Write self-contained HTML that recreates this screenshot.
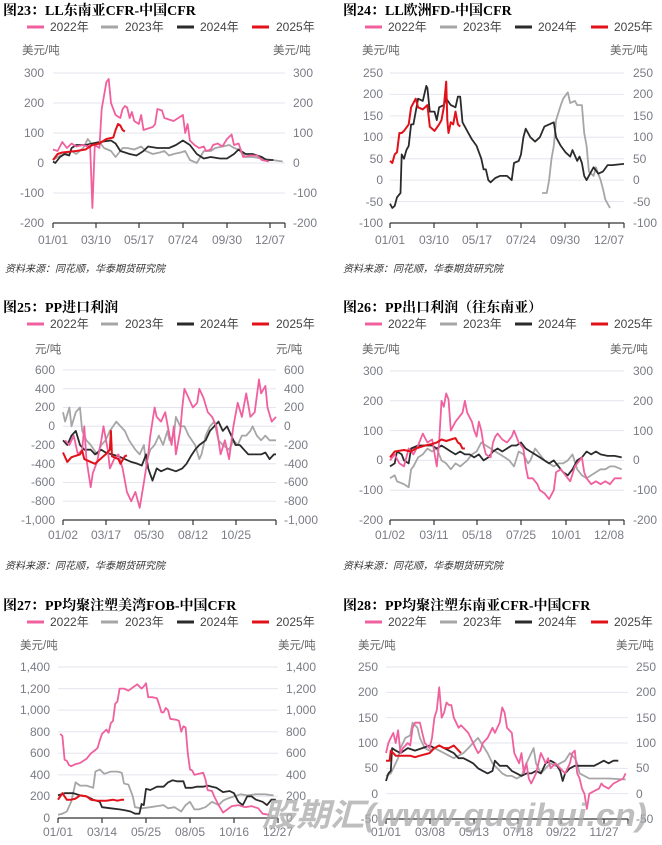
<!DOCTYPE html>
<html><head><meta charset="utf-8"><style>
html,body{margin:0;padding:0;background:#fff;}
svg{display:block;}
.t{font-family:"Liberation Serif","Noto Serif CJK SC","Noto Sans CJK SC",serif;font-weight:bold;font-size:14px;fill:#000;}
.lg{font-family:"Liberation Sans","Noto Sans CJK SC",sans-serif;font-size:12px;fill:#444;}
.u{font-family:"Liberation Sans","Noto Sans CJK SC",sans-serif;font-size:11.5px;fill:#666;}
.k{font-family:"Liberation Sans","Noto Sans CJK SC",sans-serif;font-size:12px;fill:#7a7c85;}
.s{font-family:"Liberation Sans","Noto Sans CJK SC",sans-serif;font-size:10px;fill:#333;font-style:italic;}
.g{stroke:#e3e6ee;stroke-width:1;}
.ax{stroke:#333;stroke-width:1.2;fill:none;}
</style></head><body>
<svg id="s" width="662" height="845" xmlns="http://www.w3.org/2000/svg">
<g id="grids"></g>
<g id="lines"></g>

<!-- Chart 23 -->
<text class="t" x="3" y="15">图23：LL东南亚CFR-中国CFR</text>
<g class="lg"><text x="50" y="31">2022年</text><text x="125" y="31">2023年</text><text x="200" y="31">2024年</text><text x="276" y="31">2025年</text></g>
<text class="u" x="22" y="54">美元/吨</text><text class="u" x="273" y="54">美元/吨</text>
<g class="k" text-anchor="end"><text x="44" y="77">300</text><text x="44" y="107">200</text><text x="44" y="137">100</text><text x="44" y="167">0</text><text x="44" y="197">-100</text><text x="44" y="227">-200</text></g>
<g class="k"><text x="293" y="77">300</text><text x="293" y="107">200</text><text x="293" y="137">100</text><text x="293" y="167">0</text><text x="293" y="197">-100</text><text x="293" y="227">-200</text></g>
<g class="k" text-anchor="middle"><text x="53" y="244">01/01</text><text x="96" y="244">03/10</text><text x="139" y="244">05/17</text><text x="183" y="244">07/24</text><text x="227" y="244">09/30</text><text x="270" y="244">12/07</text></g>
<text class="s" x="5" y="272">资料来源：同花顺，华泰期货研究院</text>

<!-- Chart 24 -->
<text class="t" x="343" y="15">图24：LL欧洲FD-中国CFR</text>
<g class="lg"><text x="388" y="31">2022年</text><text x="463" y="31">2023年</text><text x="538" y="31">2024年</text><text x="614" y="31">2025年</text></g>
<text class="u" x="362" y="54">美元/吨</text><text class="u" x="610" y="54">美元/吨</text>
<g class="k" text-anchor="end"><text x="383" y="77">250</text><text x="383" y="98">200</text><text x="383" y="120">150</text><text x="383" y="141">100</text><text x="383" y="163">50</text><text x="383" y="184">0</text><text x="383" y="206">-50</text><text x="383" y="227">-100</text></g>
<g class="k"><text x="633" y="77">250</text><text x="633" y="98">200</text><text x="633" y="120">150</text><text x="633" y="141">100</text><text x="633" y="163">50</text><text x="633" y="184">0</text><text x="633" y="206">-50</text><text x="633" y="227">-100</text></g>
<g class="k" text-anchor="middle"><text x="390" y="244">01/01</text><text x="434" y="244">03/10</text><text x="477" y="244">05/17</text><text x="521" y="244">07/24</text><text x="565" y="244">09/30</text><text x="609" y="244">12/07</text></g>
<text class="s" x="343" y="272">资料来源：同花顺，华泰期货研究院</text>

<!-- Chart 25 -->
<text class="t" x="3" y="312">图25：PP进口利润</text>
<g class="lg"><text x="50" y="328">2022年</text><text x="125" y="328">2023年</text><text x="200" y="328">2024年</text><text x="276" y="328">2025年</text></g>
<text class="u" x="35" y="353">元/吨</text><text class="u" x="276" y="353">元/吨</text>
<g class="k" text-anchor="end"><text x="55" y="374">600</text><text x="55" y="393">400</text><text x="55" y="411">200</text><text x="55" y="430">0</text><text x="55" y="449">-200</text><text x="55" y="468">-400</text><text x="55" y="486">-600</text><text x="55" y="505">-800</text><text x="55" y="524">-1,000</text></g>
<g class="k"><text x="284" y="374">600</text><text x="284" y="393">400</text><text x="284" y="411">200</text><text x="284" y="430">0</text><text x="284" y="449">-200</text><text x="284" y="468">-400</text><text x="284" y="486">-600</text><text x="284" y="505">-800</text><text x="284" y="524">-1,000</text></g>
<g class="k" text-anchor="middle"><text x="63" y="539">01/02</text><text x="106" y="539">03/17</text><text x="149" y="539">05/30</text><text x="193" y="539">08/12</text><text x="236" y="539">10/25</text></g>
<text class="s" x="5" y="569">资料来源：同花顺，华泰期货研究院</text>

<!-- Chart 26 -->
<text class="t" x="343" y="312">图26：PP出口利润（往东南亚）</text>
<g class="lg"><text x="388" y="328">2022年</text><text x="463" y="328">2023年</text><text x="538" y="328">2024年</text><text x="614" y="328">2025年</text></g>
<text class="u" x="362" y="353">美元/吨</text><text class="u" x="610" y="353">美元/吨</text>
<g class="k" text-anchor="end"><text x="383" y="375">300</text><text x="383" y="405">200</text><text x="383" y="435">100</text><text x="383" y="464">0</text><text x="383" y="494">-100</text><text x="383" y="524">-200</text></g>
<g class="k"><text x="633" y="375">300</text><text x="633" y="405">200</text><text x="633" y="435">100</text><text x="633" y="464">0</text><text x="633" y="494">-100</text><text x="633" y="524">-200</text></g>
<g class="k" text-anchor="middle"><text x="390" y="539">01/02</text><text x="434" y="539">03/11</text><text x="477" y="539">05/18</text><text x="521" y="539">07/25</text><text x="566" y="539">10/01</text><text x="609" y="539">12/08</text></g>
<text class="s" x="343" y="569">资料来源：同花顺，华泰期货研究院</text>

<!-- Chart 27 -->
<text class="t" x="3" y="610">图27：PP均聚注塑美湾FOB-中国CFR</text>
<g class="lg"><text x="50" y="626">2022年</text><text x="125" y="626">2023年</text><text x="200" y="626">2024年</text><text x="276" y="626">2025年</text></g>
<text class="u" x="20" y="649">美元/吨</text><text class="u" x="278" y="649">美元/吨</text>
<g class="k" text-anchor="end"><text x="50" y="671">1,400</text><text x="50" y="693">1,200</text><text x="50" y="714">1,000</text><text x="50" y="736">800</text><text x="50" y="757">600</text><text x="50" y="779">400</text><text x="50" y="800">200</text><text x="50" y="822">0</text></g>
<g class="k"><text x="286" y="671">1,400</text><text x="286" y="693">1,200</text><text x="286" y="714">1,000</text><text x="286" y="736">800</text><text x="286" y="757">600</text><text x="286" y="779">400</text><text x="286" y="800">200</text><text x="286" y="822">0</text></g>
<g class="k" text-anchor="middle"><text x="58" y="836">01/01</text><text x="102" y="836">03/14</text><text x="146" y="836">05/25</text><text x="190" y="836">08/05</text><text x="234" y="836">10/16</text><text x="278" y="836">12/27</text></g>

<!-- Chart 28 -->
<text class="t" x="343" y="610">图28：PP均聚注塑东南亚CFR-中国CFR</text>
<g class="lg"><text x="388" y="626">2022年</text><text x="463" y="626">2023年</text><text x="538" y="626">2024年</text><text x="614" y="626">2025年</text></g>
<text class="u" x="358" y="649">美元/吨</text><text class="u" x="616" y="649">美元/吨</text>
<g class="k" text-anchor="end"><text x="378" y="671">250</text><text x="378" y="696">200</text><text x="378" y="722">150</text><text x="378" y="747">100</text><text x="378" y="772">50</text><text x="378" y="798">0</text><text x="378" y="823">-50</text></g>
<g class="k"><text x="636" y="671">250</text><text x="636" y="696">200</text><text x="636" y="722">150</text><text x="636" y="747">100</text><text x="636" y="772">50</text><text x="636" y="798">0</text><text x="636" y="823">-50</text></g>
<g class="k" text-anchor="middle"><text x="386" y="836">01/01</text><text x="430" y="836">03/08</text><text x="474" y="836">05/13</text><text x="518" y="836">07/18</text><text x="561" y="836">09/22</text><text x="604" y="836">11/27</text></g>

<text x="262" y="826" font-family="Liberation Sans,Noto Sans CJK SC,sans-serif" font-size="32" font-weight="bold" font-style="italic" fill="#a8a8a8" fill-opacity="0.75" textLength="385" lengthAdjust="spacingAndGlyphs">股期汇(www.guqihui.cn)</text>
</svg>
<script>
var C={p:"#f0609e",g:"#a6a6a6",b:"#2b2b2b",r:"#e3111a"};
var NS="http://www.w3.org/2000/svg";
function el(par,n,a){var e=document.createElementNS(NS,n);for(var k in a)e.setAttribute(k,a[k]);document.getElementById(par).appendChild(e);return e;}
function chart(o){
 var yv=function(v){return o.y0+(o.vmax-v)*(o.y1-o.y0)/(o.vmax-o.vmin);};
 for(var v=o.vmax;v>o.vmin;v-=o.step){el("grids","line",{x1:o.x0,x2:o.x1,y1:yv(v),y2:yv(v),class:"g"});}
 el("grids","line",{x1:o.x0,x2:o.x1,y1:o.y1,y2:o.y1,class:"ax"});
 o.ticks.forEach(function(t){el("grids","line",{x1:t,x2:t,y1:o.y1,y2:o.y1+5,class:"ax"});});
 el("grids","line",{x1:o.x1,x2:o.x1,y1:o.y1,y2:o.y1+5,class:"ax"});
 // legend
 var lx=o.lx, ly=o.ly, cols=[C.p,C.g,C.b,C.r];
 for(var i=0;i<4;i++)el("grids","line",{x1:lx[i],x2:lx[i]+17,y1:ly,y2:ly,stroke:cols[i],"stroke-width":3});
 ["g","b","p","r"].forEach(function(k){var d=o.d[k];if(!d)return;
  var pts=d.map(function(p){return (o.x0+p[0]*(o.x1-o.x0)).toFixed(1)+","+yv(p[1]).toFixed(1);}).join(" ");
  el("lines","polyline",{points:pts,fill:"none",stroke:C[k],"stroke-width":k=="r"?2:1.8,"stroke-linejoin":"round"});});
}
var L1=[27,101,177,252],L2=[365,440,515,591];
chart({x0:53,x1:285,y0:73,y1:223,vmax:300,vmin:-200,step:100,ticks:[53,96,139,183,227,270],lx:L1,ly:27,d:{
p:[[0,45],[.02,40],[.04,70],[.06,50],[.08,65],[.1,55],[.13,60],[.15,55],[.16,60],[.17,-150],[.18,60],[.2,50],[.21,180],[.23,270],[.24,280],[.25,200],[.27,160],[.29,150],[.3,180],[.31,190],[.32,185],[.33,150],[.34,170],[.35,140],[.37,130],[.38,160],[.39,110],[.41,115],[.43,120],[.44,130],[.45,180],[.47,175],[.48,150],[.5,145],[.52,140],[.54,150],[.56,160],[.57,100],[.58,130],[.59,75],[.61,60],[.63,50],[.65,55],[.66,40],[.68,45],[.69,60],[.71,65],[.73,55],[.75,80],[.77,95],[.78,60],[.8,65],[.82,20],[.85,25],[.88,25],[.9,10],[.93,5]],
g:[[0,10],[.02,20],[.05,30],[.08,40],[.1,30],[.13,50],[.15,80],[.17,60],[.2,70],[.22,50],[.25,40],[.27,20],[.3,50],[.32,50],[.35,45],[.38,55],[.4,40],[.43,30],[.46,35],[.48,40],[.5,25],[.52,30],[.55,35],[.57,40],[.59,10],[.62,0],[.65,40],[.68,40],[.7,50],[.73,55],[.76,60],[.78,50],[.8,45],[.83,20],[.86,20],[.9,15],[.99,5]],
b:[[0,5],[.01,0],[.03,20],[.05,30],[.07,25],[.08,50],[.1,60],[.14,60],[.17,65],[.2,70],[.25,75],[.27,65],[.29,40],[.33,30],[.36,25],[.39,40],[.41,55],[.45,50],[.5,50],[.53,60],[.56,75],[.59,60],[.62,30],[.65,15],[.68,20],[.72,15],[.75,15],[.78,30],[.8,45],[.83,30],[.86,30],[.9,20],[.92,10],[.95,10]],
r:[[0,10],[.02,30],[.04,35],[.1,40],[.14,45],[.17,60],[.2,65],[.23,80],[.26,85],[.27,110],[.28,130],[.29,125],[.3,110],[.31,105]]}});
chart({x0:390,x1:624,y0:73,y1:223,vmax:250,vmin:-100,step:50,ticks:[390,434,477,521,565,609],lx:L2,ly:27,d:{
b:[[0,-55],[.01,-65],[.02,-60],[.03,-40],[.045,-30],[.05,60],[.06,50],[.07,70],[.08,80],[.09,130],[.1,130],[.12,190],[.14,185],[.155,220],[.16,215],[.17,160],[.19,160],[.2,140],[.21,170],[.23,175],[.24,190],[.26,175],[.28,170],[.29,195],[.3,195],[.31,135],[.33,115],[.35,95],[.37,80],[.39,50],[.4,25],[.41,25],[.42,0],[.43,-5],[.45,5],[.47,10],[.5,10],[.52,0],[.53,40],[.55,45],[.56,60],[.57,100],[.58,120],[.6,100],[.62,90],[.64,100],[.66,125],[.68,130],[.7,135],[.71,100],[.73,80],[.75,65],[.77,55],[.78,70],[.8,45],[.81,55],[.82,40],[.83,10],[.84,0],[.86,20],[.87,30],[.89,15],[.91,20],[.93,35],[.95,35],[1,38]],
r:[[0,45],[.01,40],[.02,60],[.03,65],[.04,110],[.05,110],[.06,115],[.08,130],[.09,170],[.1,180],[.11,190],[.12,170],[.14,165],[.16,175],[.17,125],[.19,115],[.21,130],[.22,140],[.23,170],[.24,230],[.245,140],[.25,110],[.26,135],[.27,130],[.28,160],[.29,130],[.3,125]],
g:[[.65,-30],[.67,-30],[.68,0],[.69,50],[.7,80],[.71,140],[.73,175],[.74,190],[.76,205],[.77,180],[.79,185],[.8,175],[.82,175],[.83,110],[.84,80],[.85,20],[.87,10],[.88,30],[.9,0],[.91,-20],[.92,-45],[.94,-65]]}});
chart({x0:63,x1:276,y0:370,y1:520,vmax:600,vmin:-1000,step:200,ticks:[63,106,149,193,236],lx:L1,ly:324,d:{
p:[[.01,-150],[.03,-200],[.05,-100],[.07,-300],[.09,-250],[.1,0],[.11,-350],[.13,-650],[.14,-500],[.16,-380],[.18,-150],[.19,0],[.21,-250],[.22,-450],[.24,-350],[.26,-300],[.28,-450],[.3,-700],[.32,-800],[.34,-700],[.36,-870],[.38,-600],[.4,-300],[.41,-100],[.43,200],[.44,100],[.46,50],[.48,150],[.5,-100],[.51,-200],[.52,0],[.53,-300],[.55,-50],[.56,200],[.57,400],[.59,300],[.61,200],[.63,250],[.64,400],[.66,300],[.68,150],[.7,100],[.72,0],[.74,-300],[.76,-150],[.78,-350],[.8,0],[.82,250],[.84,100],[.86,350],[.88,100],[.9,150],[.92,500],[.93,350],[.95,430],[.96,200],[.98,50],[1,100]],
g:[[0,150],[.01,50],[.03,200],[.04,0],[.06,150],[.08,200],[.09,-50],[.11,-150],[.13,-200],[.16,-300],[.18,-200],[.2,-150],[.22,-50],[.25,50],[.27,0],[.29,-50],[.31,-150],[.34,-250],[.36,-300],[.38,-200],[.39,-400],[.41,-250],[.43,-200],[.45,-100],[.47,-200],[.49,-50],[.5,-150],[.52,-100],[.53,100],[.55,0],[.57,0],[.59,-100],[.62,-200],[.64,-350],[.65,-300],[.67,-100],[.69,0],[.71,50],[.73,-150],[.75,-200],[.78,-250],[.8,-150],[.82,-200],[.84,-100],[.86,-100],[.88,-50],[.89,0],[.91,-100],[.93,-150],[.95,-100],[.97,-150],[1,-150]],
b:[[0,-150],[.02,-200],[.04,-100],[.06,-50],[.08,-200],[.1,-250],[.13,-250],[.15,-300],[.18,-250],[.2,-280],[.23,-300],[.26,-320],[.29,-350],[.32,-380],[.35,-400],[.37,-420],[.39,-300],[.4,-450],[.42,-580],[.44,-450],[.46,-480],[.49,-450],[.53,-480],[.56,-450],[.58,-400],[.6,-320],[.62,-250],[.64,-200],[.67,-150],[.69,-50],[.71,0],[.73,50],[.75,-50],[.77,0],[.79,-100],[.81,-200],[.83,-200],[.85,-250],[.87,-300],[.9,-300],[.93,-300],[.95,-280],[.97,-350],[.99,-300],[1,-300]],
r:[[0,-280],[.02,-380],[.04,-330],[.08,-300],[.09,-260],[.1,-350],[.13,-380],[.15,-400],[.17,-360],[.2,-300],[.22,-250],[.225,-50],[.23,-320],[.26,-350],[.27,-400],[.29,-320],[.3,-310]]}});
chart({x0:390,x1:624,y0:371,y1:520,vmax:300,vmin:-200,step:100,ticks:[390,434,477,521,566,609],lx:L2,ly:324,d:{
p:[[0,0],[.02,20],[.04,-10],[.06,-20],[.08,40],[.1,20],[.12,50],[.14,90],[.16,60],[.18,70],[.2,-20],[.21,60],[.22,200],[.23,180],[.24,225],[.25,205],[.26,100],[.28,130],[.3,150],[.31,160],[.32,200],[.33,160],[.35,130],[.36,100],[.37,80],[.38,130],[.39,100],[.4,50],[.41,20],[.43,10],[.44,60],[.45,80],[.46,90],[.48,70],[.5,60],[.52,80],[.53,100],[.54,80],[.55,60],[.57,40],[.58,-20],[.59,-60],[.61,-60],[.63,-80],[.64,-100],[.66,-110],[.68,-130],[.7,-100],[.71,-40],[.73,-30],[.75,-50],[.77,-70],[.79,-20],[.8,-10],[.82,10],[.83,-40],[.84,-60],[.86,-80],[.88,-70],[.9,-80],[.92,-70],[.94,-80],[.96,-60],[.99,-60]],
g:[[0,-60],[.02,-50],[.03,-70],[.06,-80],[.08,-90],[.09,-30],[.1,-20],[.12,10],[.14,20],[.16,40],[.18,30],[.2,40],[.22,0],[.24,-10],[.26,-30],[.28,-10],[.3,-20],[.33,0],[.35,20],[.37,30],[.39,60],[.41,50],[.43,40],[.45,30],[.47,20],[.49,10],[.51,0],[.53,-20],[.55,30],[.57,20],[.59,-10],[.6,0],[.62,40],[.64,20],[.66,0],[.68,-10],[.7,-20],[.72,-10],[.74,-10],[.76,0],[.78,20],[.8,-30],[.82,-50],[.84,-60],[.86,-50],[.88,-40],[.9,-30],[.92,-30],[.94,-20],[.96,-20],[.99,-30]],
b:[[0,-20],[.02,-10],[.03,30],[.05,20],[.06,0],[.08,-10],[.09,40],[.12,50],[.15,50],[.18,50],[.2,40],[.22,50],[.24,40],[.26,30],[.28,20],[.3,30],[.32,20],[.34,20],[.36,10],[.38,20],[.4,0],[.42,10],[.44,30],[.46,40],[.48,30],[.5,40],[.52,50],[.54,50],[.56,60],[.58,40],[.6,30],[.62,20],[.64,10],[.66,0],[.68,-10],[.7,0],[.72,-20],[.74,-40],[.76,-50],[.78,-30],[.8,0],[.82,10],[.84,30],[.86,20],[.88,30],[.9,20],[.93,15],[.96,15],[.99,10]],
r:[[0,10],[.02,30],[.06,35],[.09,30],[.11,40],[.13,45],[.15,50],[.18,55],[.2,60],[.22,70],[.24,65],[.26,70],[.28,75],[.29,60],[.3,55],[.31,40],[.32,40]]}});
chart({x0:58,x1:278,y0:667,y1:818,vmax:1400,vmin:0,step:200,ticks:[58,102,146,190,234],lx:L1,ly:622,d:{
p:[[.01,780],[.02,760],[.03,540],[.04,530],[.05,490],[.06,480],[.08,500],[.1,510],[.13,550],[.15,600],[.17,630],[.18,650],[.19,720],[.2,780],[.22,820],[.23,790],[.24,880],[.25,900],[.26,1060],[.27,1080],[.28,1200],[.3,1200],[.32,1180],[.34,1210],[.36,1240],[.38,1200],[.39,1220],[.4,1250],[.41,1120],[.43,1120],[.45,1110],[.46,1050],[.47,980],[.48,980],[.49,1020],[.5,1000],[.51,920],[.54,910],[.55,900],[.56,800],[.57,850],[.58,840],[.59,600],[.6,450],[.61,440],[.62,400],[.64,410],[.66,420],[.67,360],[.68,260],[.7,250],[.71,200],[.73,120],[.75,50],[.77,80],[.79,110],[.82,120],[.85,100],[.88,110],[.91,90],[.93,40],[.96,30]],
g:[[0,30],[.02,40],[.04,60],[.06,150],[.08,330],[.1,300],[.13,300],[.16,280],[.17,430],[.19,450],[.21,410],[.24,430],[.27,430],[.29,420],[.3,320],[.32,310],[.34,200],[.35,100],[.38,90],[.42,100],[.45,110],[.48,120],[.5,90],[.53,100],[.56,60],[.58,120],[.6,150],[.62,80],[.64,80],[.67,100],[.7,150],[.73,120],[.75,160],[.77,180],[.8,200],[.83,220],[.86,210],[.9,220],[.94,220],[.98,210]],
b:[[0,210],[.03,230],[.07,230],[.1,210],[.13,200],[.16,170],[.19,150],[.2,100],[.24,90],[.28,80],[.31,70],[.33,60],[.35,40],[.37,40],[.38,130],[.39,120],[.4,270],[.42,260],[.45,290],[.48,290],[.5,330],[.52,350],[.54,340],[.57,340],[.58,280],[.61,280],[.63,290],[.66,290],[.68,300],[.7,290],[.72,280],[.75,240],[.78,250],[.8,230],[.82,150],[.84,120],[.86,200],[.88,200],[.9,170],[.93,150],[.95,120],[.97,170],[.99,170]],
r:[[0,170],[.01,200],[.02,230],[.03,200],[.04,170],[.06,170],[.08,180],[.1,210],[.13,200],[.15,170],[.18,160],[.22,160],[.25,170],[.27,160],[.29,170],[.3,170]]}});
chart({x0:386,x1:628,y0:667,y1:819,vmax:250,vmin:-50,step:50,ticks:[386,430,474,518,561,604],lx:L2,ly:622,d:{
p:[[0,80],[.01,100],[.02,110],[.03,120],[.04,100],[.05,125],[.06,80],[.07,90],[.09,100],[.1,95],[.11,130],[.12,140],[.14,140],[.15,120],[.16,100],[.18,90],[.19,110],[.2,150],[.21,165],[.22,210],[.23,150],[.24,160],[.25,180],[.26,175],[.27,175],[.28,150],[.29,140],[.3,130],[.31,135],[.32,130],[.34,120],[.35,110],[.36,100],[.37,90],[.38,80],[.39,85],[.4,100],[.42,110],[.44,130],[.45,120],[.47,140],[.48,170],[.49,160],[.5,130],[.52,120],[.53,80],[.54,70],[.55,60],[.56,80],[.57,40],[.58,60],[.59,30],[.6,20],[.61,30],[.62,40],[.64,80],[.66,60],[.67,70],[.68,50],[.7,60],[.72,50],[.74,40],[.76,60],[.77,80],[.78,85],[.79,40],[.8,30],[.81,10],[.82,0],[.83,-30],[.84,0],[.86,5],[.88,10],[.89,20],[.9,15],[.92,10],[.94,20],[.96,25],[.98,30],[.99,40]],
g:[[0,35],[.02,40],[.03,50],[.05,70],[.06,90],[.08,110],[.1,115],[.11,140],[.13,130],[.14,110],[.16,90],[.18,85],[.2,90],[.22,85],[.24,80],[.26,75],[.28,70],[.3,75],[.32,80],[.34,90],[.36,100],[.38,110],[.4,95],[.42,80],[.44,60],[.46,50],[.48,40],[.5,35],[.52,35],[.54,30],[.56,35],[.58,60],[.6,80],[.61,90],[.62,60],[.64,40],[.66,50],[.68,60],[.7,55],[.72,60],[.74,65],[.76,80],[.78,70],[.79,60],[.8,40],[.82,35],[.84,30],[.88,30],[.92,30],[.99,28]],
b:[[0,25],[.01,40],[.02,45],[.025,90],[.04,85],[.06,80],[.09,90],[.12,85],[.15,90],[.18,95],[.2,90],[.22,95],[.24,90],[.26,85],[.28,80],[.3,70],[.32,70],[.34,65],[.36,60],[.38,50],[.4,45],[.42,40],[.44,45],[.45,65],[.47,55],[.5,55],[.52,45],[.54,40],[.56,35],[.58,40],[.6,40],[.62,45],[.64,40],[.66,60],[.68,65],[.7,60],[.72,45],[.73,25],[.74,40],[.76,50],[.78,55],[.82,55],[.86,55],[.88,60],[.9,65],[.92,60],[.94,65],[.96,65]],
r:[[0,65],[.015,65],[.02,85],[.03,80],[.04,75],[.06,75],[.1,75],[.12,72],[.14,75],[.18,80],[.2,90],[.22,95],[.24,90],[.26,90],[.28,95],[.3,85],[.31,80]]}});
</script>
</body></html>
